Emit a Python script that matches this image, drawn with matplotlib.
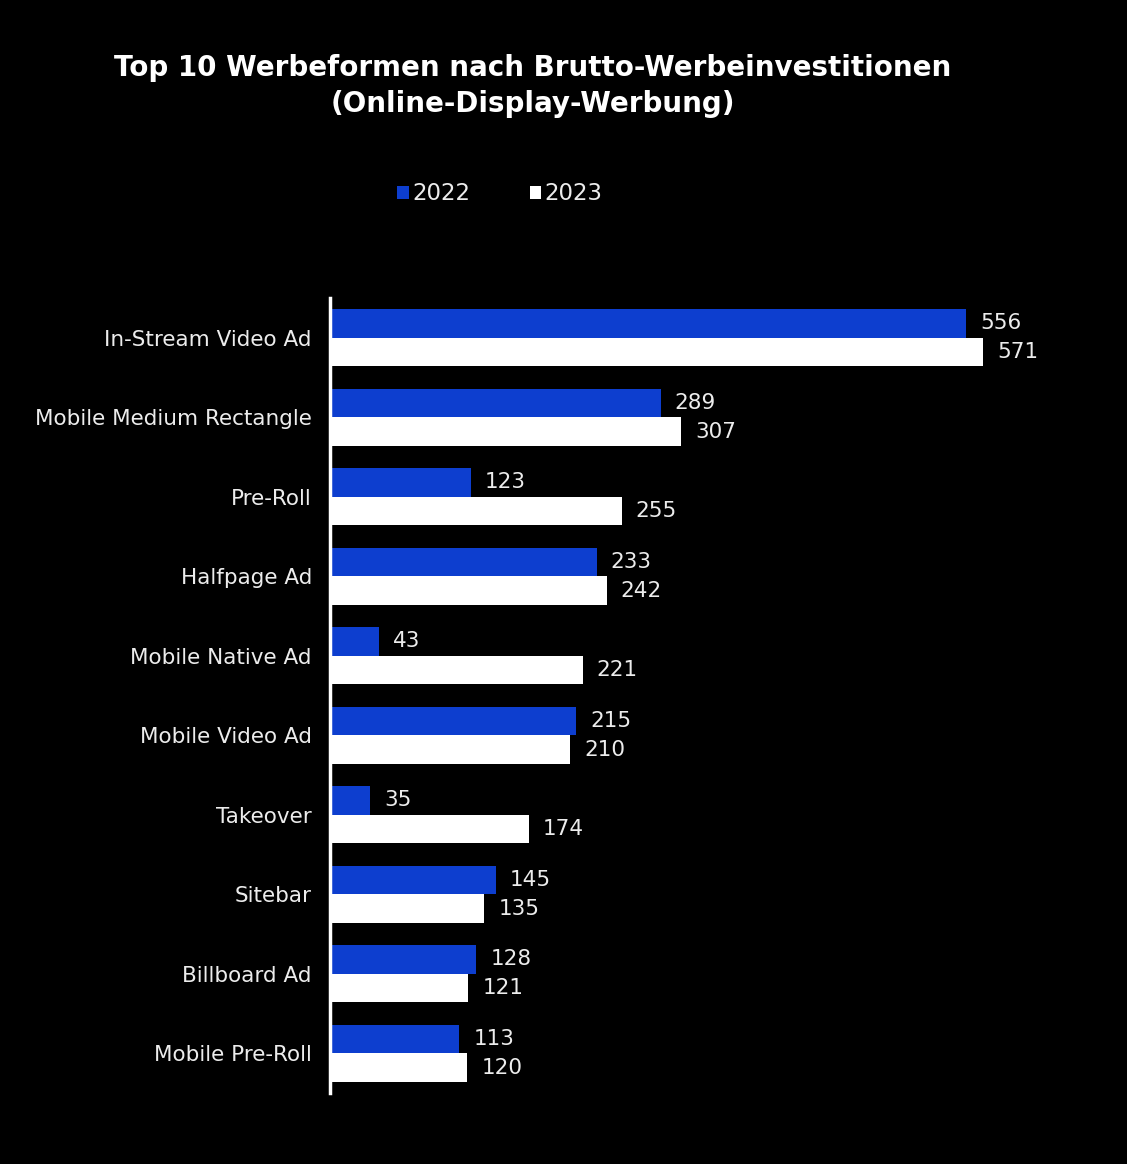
import matplotlib.pyplot as plt
import numpy as np

categories = ['In-Stream Video Ad', 'Mobile Medium Rectangle', 'Pre-Roll', 'Halfpage Ad',
              'Mobile Native Ad', 'Mobile Video Ad', 'Takeover', 'Sitebar',
              'Billboard Ad', 'Mobile Pre-Roll']
vals_2022 = [556, 289, 123, 233, 43, 215, 35, 145, 128, 113]
vals_2023 = [571, 307, 255, 242, 221, 210, 174, 135, 121, 120]
years = ['2022', '2023']

blue = '#0d3ecf'
txt = '#ececec'

fig = plt.figure(figsize=(11.27, 11.64), dpi=100, facecolor='black')
ax = fig.add_axes([330 / 1127, 1 - 1093 / 1164, 770 / 1127, (1093 - 298) / 1164])
ax.set_facecolor('black')

ind = np.arange(len(categories))
h = 0.36
b1 = ax.barh(ind - h / 2, vals_2022, h, color=blue, label=years[0])
b2 = ax.barh(ind + h / 2, vals_2023, h, color='white', label=years[1])

# value labels next to each bar
for bars in (b1, b2):
    for r in bars:
        ax.annotate(str(int(r.get_width())), (r.get_width(), r.get_y() + r.get_height() / 2),
                    xytext=(14, 0), textcoords='offset pixels',
                    va='center', ha='left', color=txt, fontsize=15.5)

ax.set_xlim(0, 770 / 1.144)
ax.set_ylim(9.5, -0.5)
ax.set_yticks(ind)
ax.set_yticklabels(categories, color=txt, fontsize=15.5)
ax.tick_params(axis='y', length=0, pad=13)
ax.set_xticks([])
for s in ['top', 'right', 'bottom']:
    ax.spines[s].set_visible(False)
ax.spines['left'].set_color('white')
ax.spines['left'].set_linewidth(2.5)

fig.text(533 / 1127, 1 - 86 / 1164, 'Top 10 Werbeformen nach Brutto-Werbeinvestitionen\n(Online-Display-Werbung)',
         ha='center', va='center', color='white', fontsize=20, fontweight='bold', linespacing=1.35)

leg = fig.legend(handles=[b1, b2], loc='center', bbox_to_anchor=(500 / 1127, 1 - 194 / 1164),
                 ncol=2, frameon=False, fontsize=16.5, handlelength=0.5, handleheight=0.5,
                 handletextpad=0.15, columnspacing=2.6, labelcolor=txt)

fig.savefig('out.png', dpi=100, facecolor='black')
